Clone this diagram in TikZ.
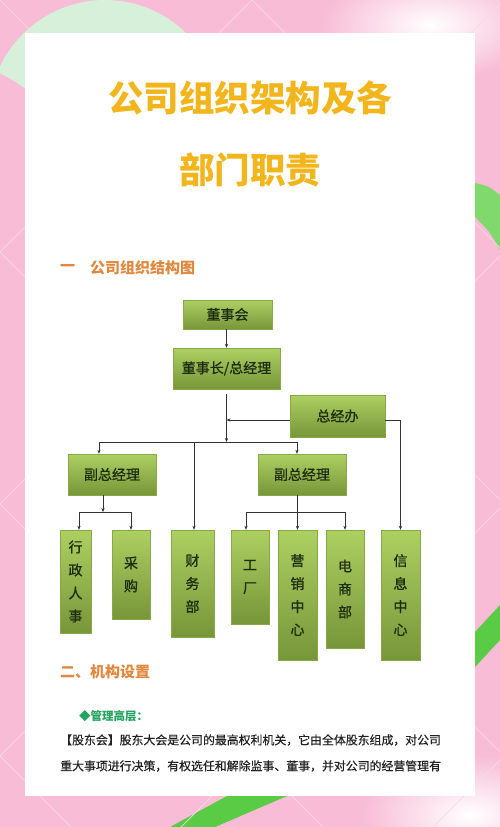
\documentclass[tikz,border=0pt]{standalone}
\usepackage{fontspec}
\setmainfont{Noto Sans CJK SC}
\newfontfamily\boxfont[FakeBold=0.9]{Noto Sans CJK SC}
\newfontfamily\bodyfont[FakeBold=0.4]{Noto Sans CJK SC}
\usetikzlibrary{arrows.meta, positioning, shadows}

\definecolor{pinkbg}{HTML}{F8BCD6}
\definecolor{mintbg}{HTML}{D6F0DA}
\definecolor{greenband}{HTML}{7FD96C}
\definecolor{greenband2}{HTML}{5ACB45}
\definecolor{diagline}{HTML}{F5DCE8}
\definecolor{titlegold}{HTML}{F2B61C}
\definecolor{headorange}{HTML}{E2883E}
\definecolor{subgreen}{HTML}{22A35E}
\definecolor{bodytext}{HTML}{222222}
\definecolor{boxtop}{HTML}{ADD062}
\definecolor{boxbot}{HTML}{779639}
\definecolor{boxedge}{HTML}{86A847}
\definecolor{boxtext}{HTML}{1E2B10}
\definecolor{linegray}{HTML}{333333}

\begin{document}
\begin{tikzpicture}[
  x=1pt, y=-1pt,
  orgbox/.style = {
    rectangle, draw=boxedge, line width=0.4pt,
    top color=boxtop, bottom color=boxbot,
    text=boxtext, inner sep=0pt,
    font=\boxfont\fontsize{14}{16}\selectfont,
    drop shadow={opacity=0.25, shadow xshift=1.2pt, shadow yshift=-1.2pt}
  },
  vbox/.style = {
    orgbox, align=center,
    font=\boxfont\fontsize{14}{23}\selectfont
  },
  arrow/.style = {
    -{Stealth[length=4pt, width=3.2pt]}, draw=linegray, line width=0.6pt
  },
  bus/.style = {
    draw=linegray, line width=0.6pt
  },
  diag/.style = {
    draw=diagline, line width=0.7pt
  },
  heading/.style = {
    text=headorange, font=\fontsize{15}{18}\selectfont\bfseries,
    inner sep=0pt, anchor=west
  },
  bodyline/.style = {
    text=bodytext, font=\bodyfont\fontsize{11.9}{14}\selectfont,
    inner sep=0pt, anchor=west
  }
]
\useasboundingbox (0,0) rectangle (500,827);

% ====== BACKGROUND ======
\begin{scope}
\clip (0,0) rectangle (500,827);
\fill[pinkbg] (0,0) rectangle (500,827);
\fill[mintbg] (105,116) circle (116);
\fill[pinkbg] (-60,200) circle (140);
\shade[inner color=white, outer color=pinkbg] (430,25) ellipse (110 and 55);
\shade[inner color=white, outer color=pinkbg] (470,815) ellipse (110 and 60);
\fill[greenband] (475,183) .. controls (488,186) .. (500,195)
  -- (500,250) .. controls (490,232) .. (475,217) -- cycle;
\fill[greenband2] (475,632) -- (500,605) -- (500,640) -- (475,667) -- cycle;
\fill[greenband2] (170,827) -- (215,827) -- (287,796) -- (227,796) -- cycle;
% diamond lattice
\foreach \c in {0,252,...,1512}
  \draw[diag] (\c,0) -- ++(-900,900);
\foreach \c in {-756,-504,...,504}
  \draw[diag] (\c,0) -- ++(900,900);
\end{scope}

% white card
\fill[white] (25,33) rectangle (475,796);

% ====== TITLES ======
\node[text=titlegold, font=\fontsize{35.5}{40}\selectfont\bfseries, inner sep=0pt]
  (title1) at (250,98) {公司组织架构及各};
\node[text=titlegold, font=\fontsize{35.5}{40}\selectfont\bfseries, inner sep=0pt]
  (title2) at (250,170) {部门职责};

\node[heading] (sec1num) at (60,268) {一};
\node[heading] (sec1) at (90,268) {公司组织结构图};

% ====== ORG CHART ======
\node[orgbox, minimum width=89, minimum height=29] (dsh) at (227.5,314.5) {董事会};
\node[orgbox, minimum width=107, minimum height=41] (dsz) at (226.5,368.5) {董事长/总经理};
\node[orgbox, minimum width=95, minimum height=42] (zjb) at (337.5,416) {总经办};

\node[orgbox, minimum width=88, minimum height=41] (fz1) at (112,474.5) {副总经理};
\node[orgbox, minimum width=88, minimum height=41] (fz2) at (302,474.5) {副总经理};

\node[vbox, minimum width=31, minimum height=103] (xz) at (75.5,581.5) {行\\政\\人\\事};
\node[vbox, minimum width=38, minimum height=89]  (cg) at (131,574.5) {采\\购};
\node[vbox, minimum width=43, minimum height=107] (cw) at (192.5,583.5) {财\\务\\部};
\node[vbox, minimum width=38, minimum height=94]  (gc) at (250,577) {工\\厂};
\node[vbox, minimum width=39, minimum height=130] (yx) at (297.5,595) {营\\销\\中\\心};
\node[vbox, minimum width=38, minimum height=118] (ds) at (345,589) {电\\商\\部};
\node[vbox, minimum width=39, minimum height=130] (xx) at (400.5,595) {信\\息\\中\\心};

% bus points
\coordinate (j0) at (226.5,442);
\coordinate (busL) at (99,442);
\coordinate (busC) at (194,442);
\coordinate (busR) at (297,442);
\coordinate (b1) at (103,512);
\coordinate (b1L) at (79,512);
\coordinate (b2L) at (246,512);

% ====== ARROWS ======
\draw[arrow] (dsh.south -| dsz.north) -- (dsz.north);
\draw[arrow] ([yshift=-5pt]dsz.south) -- (j0);
\draw[arrow] ([yshift=-4pt]zjb.west) -- ([yshift=-4pt]zjb.west -| j0);

% top bus -> deputies, finance
\draw[bus] (busL) -- (busR);
\draw[arrow] (busL) -- (busL |- fz1.north);
\draw[arrow] (busR) -- (busR |- fz2.north);
\draw[arrow] (busC) -- (busC |- cw.north);

% general office -> info center
\draw[arrow] ([yshift=-4pt]zjb.east) -| (xx.north);

% left deputy
\draw[arrow] (b1 |- fz1.south) -- (b1);
\draw[bus] (b1L) -- (b1L -| cg.north);
\draw[arrow] (b1L) -- (b1L |- xz.north);
\draw[arrow] (b1L -| cg.north) -- (cg.north);

% right deputy
\draw[arrow] (yx.north |- fz2.south) -- (yx.north);
\draw[bus] (b2L) -- (b2L -| ds.north);
\draw[arrow] (b2L) -- (b2L |- gc.north);
\draw[arrow] (b2L -| ds.north) -- (ds.north);

% ====== SECTION TWO ======
\node[heading] (sec2) at (60,672) {二、机构设置};
\node[text=subgreen, font=\fontsize{11.5}{14}\selectfont\bfseries,
      inner sep=0pt, anchor=west] (sub1) at (79,716) {◆管理高层：};
\node[bodyline] (body1) at (60,740) {【股东会】股东大会是公司的最高权利机关，它由全体股东组成，对公司};
\node[bodyline] (body2) at (60,766) {重大事项进行决策，有权选任和解除监事、董事，并对公司的经营管理有};

\end{tikzpicture}
\end{document}
